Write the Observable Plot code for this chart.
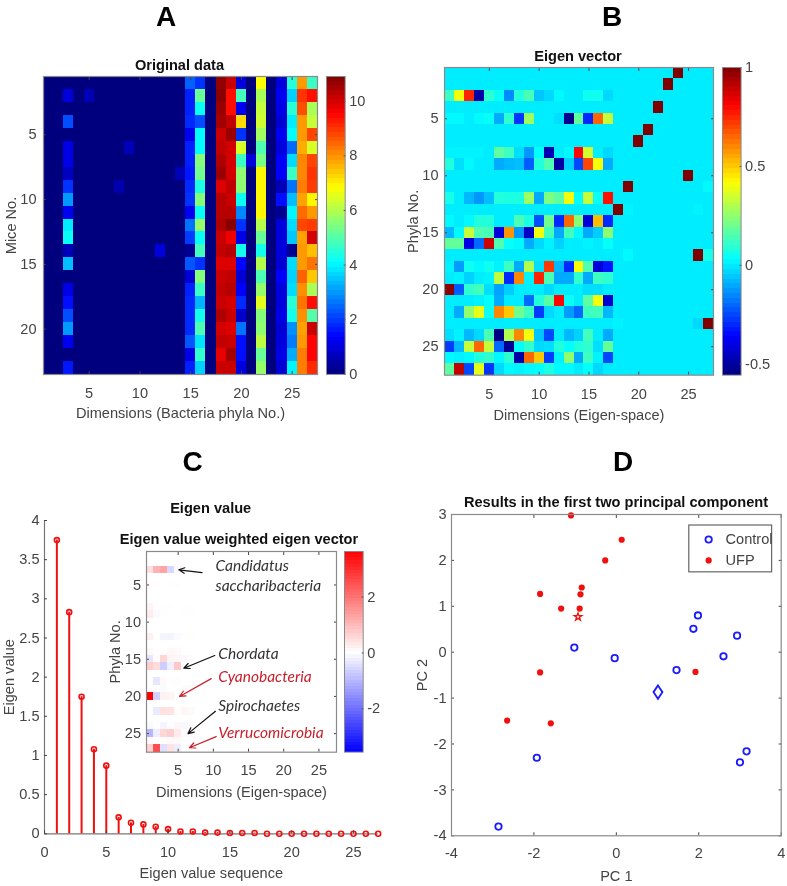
<!DOCTYPE html>
<html>
<head>
<meta charset="utf-8">
<script src="https://cdn.jsdelivr.net/npm/d3@7"></script>
<script src="https://cdn.jsdelivr.net/npm/@observablehq/plot@0.6"></script>
<style>
html,body{margin:0;padding:0;background:#fff;}
#page{position:relative;width:787px;height:886px;overflow:hidden;font-family:"Liberation Sans",Arial,sans-serif;color:#444;filter:blur(0.45px);}
#page svg{position:absolute;overflow:visible;background:transparent;}
.t{position:absolute;transform:translate(-50%,-50%);white-space:nowrap;font-weight:bold;color:#111;font-size:14.6px;line-height:1;}
.letter{position:absolute;transform:translate(-50%,-50%);font-family:"Liberation Sans";font-weight:700;font-size:28px;line-height:1;color:#000;}
</style>
</head>
<body>
<div id="page"></div>
<script>
// ---------- Panel A : original data (mice x phyla) ----------
const dim3  = [0,1,0,2.2,0,1.1,1.1,.7,1.9,3,1.2,3.9,4.2,.6,3.4,0,1.1,1.5,2.2,3,1.2,0,1.6];
const dim15 = [2.4,1.7,1.7,1.8,1.2,1.7,1.7,1.6,1.8,1.9,1.2,2.6,2,.2,2.3,.9,1.7,1.8,1.8,1.8,2.3,1.1,1.7];
const dim16 = [1.9,5.2,4.2,2.2,4.1,4.1,5.5,5.3,4.4,5.5,4.2,5.7,4.2,4.8,1.9,5.5,4.7,3.3,4.3,4.9,3.8,4.6,3.6];
const dim18 = [10.7,10.8,10.6,10.5,10.1,10.2,10.4,10.6,9.9,10.3,10.3,10.4,10.1,10.2,9.9,10.1,10.2,10.1,10.4,10,10.2,9.8,10.1];
const dim19 = [10.1,9.4,9.4,10.2,10.6,10,10,10,10.2,10.1,10.3,10.8,9.7,10.3,9.9,10.2,10.3,10,10.1,9.9,10.1,10.5,10.1];
const dim20 = [1,4.8,1.2,7.2,1.9,6.4,4.7,5.6,5.6,4.2,2.8,1.9,1.1,4.3,1.4,.9,1.3,1.8,.8,2.6,1.5,1.5,1];
const dim22 = [6.8,5.9,6.2,6.3,5.8,4.9,5.4,6.9,6.9,6.9,6.9,6,5.2,4.3,6,4.9,5.7,6.5,5.5,5.6,6.1,5.2,5.7];
const dim24 = [1,1.2,1.1,.9,1.2,1,1.3,1.3,.6,1.5,.2,1,1,1,.9,1.3,1,1,1.1,.9,1,1.1,.9];
const dim25 = [4.5,3.6,4.5,3.9,4.1,2.5,3.7,4.7,2.6,3.4,4,3.7,3.5,.2,3.7,3.6,3.7,4.5,4.3,2.9,2.7,3.2,4];
const dim26 = [7.9,9,8.7,7.9,7.9,7.7,8.1,8.1,8.2,7.8,8.4,8.8,7.8,7.9,7.9,8.5,8,8.3,8,7.8,7.9,8.2,8.2];
const dim27 = [4.7,9.4,5.9,6.2,8.8,6.4,8.8,9,8.9,6.9,7.9,8.9,10,7.5,8.3,7.4,5.9,9.4,5,10.1,9.5,9.5,9.1];
const denseDims = [3,15,16,18,19,20,22,24,25,26,27];
const denseCols = [dim3,dim15,dim16,dim18,dim19,dim20,dim22,dim24,dim25,dim26,dim27];
const speckDim   = [5,9,8,14,12,21];
const speckMouse = [2,6,9,8,14,7];
const speckValue = [.6,.6,.5,.6,1,1];

// ---------- Panel B : eigen vectors, columns 1-17 per phylum ----------
const ev3  = [.12,.40,.75,-.5,.1,.04,-.15,.08,.14,-.06,-.03,.02,0,0,.05,.05,-.03];
const ev5  = [.02,.02,0,.02,.04,-.1,.1,-.28,.27,0,0,-.02,-.53,.18,-.3,.65,.33];
const ev8  = [.01,.01,.01,.01,0,.17,.12,-.02,-.13,.03,-.48,0,.02,.8,.35,0,-.03];
const ev9  = [.08,-.02,.02,0,0,-.1,-.08,-.07,-.22,.08,.15,-.5,-.04,-.25,.7,.4,-.1];
const ev12 = [.06,0,-.08,-.13,-.07,.08,.07,.07,.27,-.1,.22,.17,.4,.03,.33,.04,.78];
const ev14 = [.02,0,.02,.08,.08,0,0,.14,.07,-.24,.2,-.3,.65,.24,-.42,.52,-.3];
const ev15 = [-.08,.02,.33,.15,.14,-.42,.58,-.13,-.45,.4,.13,-.1,.13,.02,-.1,-.05,.24];
const ev16 = [.18,.18,-.4,-.2,.88,.15,.04,.02,-.1,-.03,.01,-.04,0,0,.01,0,.04];
const ev18 = [.01,-.12,.05,.02,.05,.01,.12,-.1,.3,-.02,.72,-.08,-.3,.42,.15,-.42,-.33];
const ev19 = [0,.01,-.04,0,.01,.32,-.3,.6,.01,.75,.14,-.1,-.1,.1,-.1,.12,.1];
const ev20 = [.98,-.22,.1,.13,-.02,-.11,-.05,0,0,0,-.03,0,0,0,-.02,-.02,0];
const ev21 = [0,0,0,.01,.03,-.1,0,0,-.2,.08,.16,.8,.04,0,.17,.4,-.43];
const ev22 = [0,-.1,.25,.38,.05,.6,.5,.2,.12,-.27,-.03,0,-.12,-.2,.12,.13,-.08];
const ev24 = [-.02,.01,-.08,-.03,.14,-.55,.3,.6,.4,-.06,-.25,0,-.08,-.04,.13,0,-.1];
const ev25 = [-.27,-.08,.33,.65,.33,-.2,-.52,.03,.1,-.03,-.02,.08,.03,.08,.1,-.02,.18];
const ev26 = [.02,.01,.02,.08,.1,.02,.1,-.5,.65,.5,-.27,.01,.25,-.1,.12,.01,-.25];
const ev27 = [.17,.9,-.25,.38,-.28,-.03,.02,.01,.02,.03,.07,.02,.02,0,.03,-.03,0];
const evRowIds = [3,5,8,9,12,14,15,16,18,19,20,21,22,24,25,26,27];
const evRows = [ev3,ev5,ev8,ev9,ev12,ev14,ev15,ev16,ev18,ev19,ev20,ev21,ev22,ev24,ev25,ev26,ev27];
const soloRow = [1,2,4,6,7,10,11,13,17,23,11,13,13,17,17,23,23];
const soloCol = [24,23,22,21,20,25,19,18,26,27,27,19,26,19,27,18,26];
const soloVal = [1,1,1,1,1,1,1,1,1,1,.02,.01,.01,.02,.06,.01,-.03];

// ---------- Panel C : eigen values and weighted eigen vectors ----------
const eigenValues = [3.75,2.83,1.75,1.08,.87,.21,.14,.12,.09,.06,.03,.03,.015,.015,.01,.01,.01,0,0,0,0,0,0,0,0,0,0];
const wRowIds = [3,5,8,9,12,14,15,16,18,19,20,22,24,25,26,27];
const w3  = [.45,1.1,1.3,-.55,.09,0,0];
const w5  = [.05,.03,0,.02,.03,0,0];
const w8  = [.15,.03,.02,.01,0,.03,.02];
const w9  = [.25,-.05,.03,0,0,-.02,-.01];
const w12 = [.2,0,-.15,-.15,-.06,.02,.01];
const w14 = [.08,0,.03,.1,.08,0,0];
const w15 = [-.35,.05,.6,.16,.12,-.08,.04];
const w16 = [.7,.5,-.7,-.22,.77,.03,0];
const w18 = [0,-.35,.08,.02,.04,0,.02];
const w19 = [0,0,-.07,0,0,.06,-.04];
const w20 = [3.6,-.62,.18,.14,-.02,-.02,0];
const w22 = [0,-.28,.44,.41,.04,.12,.07];
const w24 = [-.08,.03,-.14,-.03,.12,-.11,.04];
const w25 = [-1,-.23,.58,.7,.29,-.04,-.07];
const w26 = [.08,.03,.04,.09,.09,0,.02];
const w27 = [.64,2.55,-.44,.41,-.24,0,0];
const wRows = [w3,w5,w8,w9,w12,w14,w15,w16,w18,w19,w20,w22,w24,w25,w26,w27];

const noteLabel = ["Candidatus","saccharibacteria","Chordata","Cyanobacteria","Spirochaetes","Verrucomicrobia"];
const noteDim   = [10.3,10.3,10.7,10.7,10.7,10.7];
const notePhyla = [2.5,5.2,14.3,17.4,21.3,24.9];
const noteColor = ["#333","#333","#333","#c8202c","#333","#c8202c"];
const arrowFromX = [8.4,10.2,9.7,10.3,10.4];
const arrowFromY = [3.33,14.5,17.6,22,25.4];
const arrowToX   = [5.09,5.8,5.2,6.4,6.6];
const arrowToY   = [2.96,16.2,20,25,26.9];
const arrowColor = ["#111","#111","#c8202c","#111","#c8202c"];

// ---------- Panel D : first two principal components ----------
const controlPC1 = [-1.02,-.04,1.46,1.87,1.98,2.6,2.93,3.16,3,-1.93,-2.86];
const controlPC2 = [.1,-.13,-.39,.51,.8,-.09,.36,-2.16,-2.4,-2.3,-3.8];
const ufpPC1 = [-1.1,.13,-.27,-.84,-.87,-1.85,-1.34,-.89,-1.85,1.92,-2.65,-1.59];
const ufpPC2 = [2.98,2.45,2,1.41,1.26,1.27,.95,.95,-.44,-.43,-1.49,-1.55];
const controlMean = [1.01,-.87];
const ufpMean = [-.93,.77];

const jetStops = ["#00007f","#0000ff","#007fff","#00ffff","#7fff7f","#ffff00","#ff7f00","#ff0000","#7f0000"];
const jet = d3.piecewise(d3.interpolateRgb, jetStops);
const dimTicks = [5,10,15,20,25];
const phylaTicks = [5,10,15,20,25];

const page = document.getElementById("page");
const FONT = "Liberation Sans";
const GREY = "#444";
const baseStyle = {fontSize:"14.6px",fontFamily:FONT,color:GREY,background:"transparent"};

function place(plot, frameLeft, frameTop, m){
  plot.style.left = (frameLeft - m.l) + "px";
  plot.style.top = (frameTop - m.t) + "px";
  page.appendChild(plot);
}
function frameAxes(o){
  return [
    Plot.axisX({anchor:"bottom",ticks:o.xTicks,tickFormat:o.fmt,label:o.xLabel,labelAnchor:"center",labelArrow:"none",labelOffset:o.xOff,tickSize:-3,tickPadding:o.pad}),
    Plot.axisX({anchor:"top",ticks:o.xTicks,tickFormat:()=>"",label:null,tickSize:-3}),
    Plot.axisY({anchor:"left",ticks:o.yTicks,tickFormat:o.fmt,label:o.yLabel,labelAnchor:"center",labelArrow:"none",labelOffset:o.yOff,tickSize:-3,tickPadding:o.padY}),
    Plot.axisY({anchor:"right",ticks:o.yTicks,tickFormat:()=>"",label:null,tickSize:-3}),
    Plot.frame({stroke:"#8a8a8a",strokeWidth:1.2})
  ];
}
function heat(o){
  const m = {l:50,r:6,t:6,b:50};
  const plot = Plot.plot({
    width:o.w+m.l+m.r,height:o.h+m.t+m.b,
    marginLeft:m.l,marginRight:m.r,marginTop:m.t,marginBottom:m.b,
    style:baseStyle,
    x:{domain:[.5,o.cols+.5]},
    y:{domain:[o.rows+.5,.5]},
    color:o.color,
    marks:[
      Plot.rect(o.cells,{x1:d=>d.c-.5,x2:d=>d.c+.5,y1:d=>d.r-.5,y2:d=>d.r+.5,fill:"v",shapeRendering:"crispEdges"}),
      ...(o.extra||[]),
      ...frameAxes(o)
    ]
  });
  place(plot,o.x,o.y,m);
}
function colorbar(o){
  const m = {l:2,r:40,t:6,b:6};
  const n = 64, step = (o.max-o.min)/n;
  const levels = d3.range(n).map(i=>o.min+i*step);
  const plot = Plot.plot({
    width:o.w+m.l+m.r,height:o.h+m.t+m.b,
    marginLeft:m.l,marginRight:m.r,marginTop:m.t,marginBottom:m.b,
    style:baseStyle,
    x:{domain:[0,1],axis:null},
    y:{domain:[o.min,o.max]},
    color:o.color,
    marks:[
      Plot.rect(levels,{x1:0,x2:1,y1:d=>d,y2:d=>d+step*1.02,fill:d=>d+step/2,shapeRendering:"crispEdges"}),
      Plot.axisY({anchor:"right",ticks:o.ticks,tickFormat:d=>String(d),label:null,tickSize:-2,tickPadding:6}),
      Plot.frame({stroke:"#8a8a8a",strokeWidth:1})
    ]
  });
  place(plot,o.x,o.y,m);
}
function label(cls,txt,x,y){
  const d=document.createElement("div");
  d.className=cls;d.textContent=txt;d.style.left=x+"px";d.style.top=y+"px";
  page.appendChild(d);
}

// A
const aMatrix = d3.range(23).map(()=>d3.range(27).map(()=>0));
denseDims.forEach((c,j)=>denseCols[j].forEach((v,i)=>{aMatrix[i][c-1]=v;}));
speckDim.forEach((c,k)=>{aMatrix[speckMouse[k]-1][c-1]=speckValue[k];});
const aCells = aMatrix.flatMap((row,i)=>row.map((v,j)=>({r:i+1,c:j+1,v})));
const aColor = {type:"linear",domain:[0,10.9],interpolate:()=>jet};
heat({x:42.7,y:76,w:274,h:298,cols:27,rows:23,cells:aCells,color:aColor,xTicks:dimTicks,yTicks:[5,10,15,20],
  xLabel:"Dimensions (Bacteria phyla No.)",yLabel:"Mice No.",xOff:43,yOff:38,pad:16,padY:10});
colorbar({x:326,y:76,w:18.7,h:298,min:0,max:10.9,ticks:[0,2,4,6,8,10],color:aColor});
label("letter","A",166,17);
label("t","Original data",179.5,65);

// B
const bMatrix = d3.range(27).map(()=>d3.range(27).map(()=>0));
evRowIds.forEach((r,i)=>evRows[i].forEach((v,j)=>{bMatrix[r-1][j]=v;}));
soloRow.forEach((r,k)=>{bMatrix[r-1][soloCol[k]-1]=soloVal[k];});
const bCells = bMatrix.flatMap((row,i)=>row.map((v,j)=>({r:i+1,c:j+1,v})));
const bColor = {type:"linear",domain:[-.555,1],interpolate:()=>jet};
heat({x:443.7,y:67.3,w:269,h:307.7,cols:27,rows:27,cells:bCells,color:bColor,xTicks:dimTicks,yTicks:phylaTicks,
  xLabel:"Dimensions (Eigen-space)",yLabel:"Phyla No.",xOff:45,yOff:37,pad:16,padY:9});
colorbar({x:721.7,y:67.3,w:18.6,h:307.7,min:-.555,max:1,ticks:[-.5,0,.5,1],color:bColor});
label("letter","B",612,17);
label("t","Eigen vector",578,56);

// C main
{
  const m={l:50,r:20,t:6,b:50};
  const seq=eigenValues.map((v,i)=>({i:i+1,v}));
  const plot=Plot.plot({
    width:333.7+m.l+m.r,height:313.3+m.t+m.b,
    marginLeft:m.l,marginRight:m.r,marginTop:m.t,marginBottom:m.b,
    style:baseStyle,
    x:{domain:[0,27]},y:{domain:[0,4]},
    marks:[
      Plot.ruleY([0],{stroke:"#777",strokeWidth:1.2}),
      Plot.ruleX([0],{stroke:"#777",strokeWidth:1.2}),
      Plot.ruleX(seq,{x:"i",y1:0,y2:"v",stroke:"#f01010",strokeWidth:2}),
      Plot.dot(seq,{x:"i",y:"v",r:2.5,stroke:"#f01010",strokeWidth:1.6}),
      Plot.axisX({ticks:[0,5,10,15,20,25],tickFormat:d=>String(d),label:"Eigen value sequence",labelAnchor:"center",labelArrow:"none",labelOffset:44,tickSize:-3,tickPadding:16}),
      Plot.axisY({ticks:[0,.5,1,1.5,2,2.5,3,3.5,4],tickFormat:d=>String(d),label:"Eigen value",labelAnchor:"center",labelArrow:"none",labelOffset:41,tickSize:-3,tickPadding:8})
    ]
  });
  place(plot,44,520,m);
}
// C inset
const cMatrix = d3.range(27).map(()=>d3.range(27).map(()=>0));
wRowIds.forEach((r,i)=>wRows[i].forEach((v,j)=>{cMatrix[r-1][j]=v;}));
const cCells = cMatrix.flatMap((row,i)=>row.map((v,j)=>({r:i+1,c:j+1,v})));
const cColor = {type:"linear",domain:[-3.55,0,3.63],range:["#0000ff","#ffffff","#ff0000"]};
const arrows = arrowFromX.map((x,i)=>({x1:x,y1:arrowFromY[i],x2:arrowToX[i],y2:arrowToY[i],c:arrowColor[i]}));
const notes = noteLabel.map((t,i)=>({t,x:noteDim[i],y:notePhyla[i],c:noteColor[i]}));
heat({x:146,y:551,w:190,h:200.7,cols:27,rows:27,cells:cCells,color:cColor,xTicks:dimTicks,yTicks:phylaTicks,
  xLabel:"Dimensions (Eigen-space)",yLabel:"Phyla No.",xOff:45,yOff:37,pad:15,padY:8.5,
  extra:[
    Plot.arrow(arrows,{x1:"x1",y1:"y1",x2:"x2",y2:"y2",stroke:"c",strokeWidth:1.2,headLength:8,headAngle:50}),
    Plot.text(notes,{x:"x",y:"y",text:"t",fill:"c",textAnchor:"start",fontStyle:"italic",fontFamily:"Lato",fontSize:15.5,letterSpacing:"0.9px"})
  ]});
colorbar({x:344,y:551,w:18.7,h:200.7,min:-3.55,max:3.63,ticks:[-2,0,2],color:cColor});
label("letter","C",192.7,462);
label("t","Eigen value",210.7,508);
label("t","Eigen value weighted eigen vector",239,539);

// D
{
  const m={l:50,r:10,t:6,b:50};
  const diamond={draw(ctx,size){const s=Math.sqrt(size),w=s*.195,h=s*.29;ctx.moveTo(0,-h);ctx.lineTo(w,0);ctx.lineTo(0,h);ctx.lineTo(-w,0);ctx.closePath();}};
  const plot=Plot.plot({
    width:329.7+m.l+m.r,height:321.3+m.t+m.b,
    marginLeft:m.l,marginRight:m.r,marginTop:m.t,marginBottom:m.b,
    style:baseStyle,
    x:{domain:[-4,4]},y:{domain:[-4,3]},
    marks:[
      Plot.rect([0],{x1:1.77,x2:3.78,y1:1.74,y2:2.76,stroke:"#666",strokeWidth:1.2,fill:"#fff"}),
      Plot.dot(controlPC1,{x:d=>d,y:(d,i)=>controlPC2[i],r:3.2,stroke:"#1a1aff",strokeWidth:1.8}),
      Plot.dot(ufpPC1,{x:d=>d,y:(d,i)=>ufpPC2[i],r:3.1,fill:"#f01010"}),
      Plot.dot([controlMean],{x:d=>d[0],y:d=>d[1],r:13,symbol:diamond,stroke:"#1a1aff",strokeWidth:1.8}),
      Plot.dot([ufpMean],{x:d=>d[0],y:d=>d[1],r:2.4,symbol:"star",stroke:"#f01010",strokeWidth:1.3}),
      Plot.dot([0],{x:2.24,y:2.455,r:3.2,stroke:"#1a1aff",strokeWidth:1.8}),
      Plot.dot([0],{x:2.24,y:2.0,r:3.1,fill:"#f01010"}),
      Plot.text(["Control"],{x:2.65,y:2.455,text:d=>d,textAnchor:"start",fontSize:14.6,fill:GREY}),
      Plot.text(["UFP"],{x:2.65,y:2.0,text:d=>d,textAnchor:"start",fontSize:14.6,fill:GREY}),
      ...frameAxes({xTicks:[-4,-2,0,2,4],yTicks:[-4,-3,-2,-1,0,1,2,3],fmt:d=>String(d),xLabel:"PC 1",yLabel:"PC 2",xOff:45,yOff:35,pad:15,padY:8})
    ]
  });
  place(plot,451,514,m);
}
label("letter","D",623,462);
label("t","Results in the first two principal component",616,502);
</script>
</body>
</html>
